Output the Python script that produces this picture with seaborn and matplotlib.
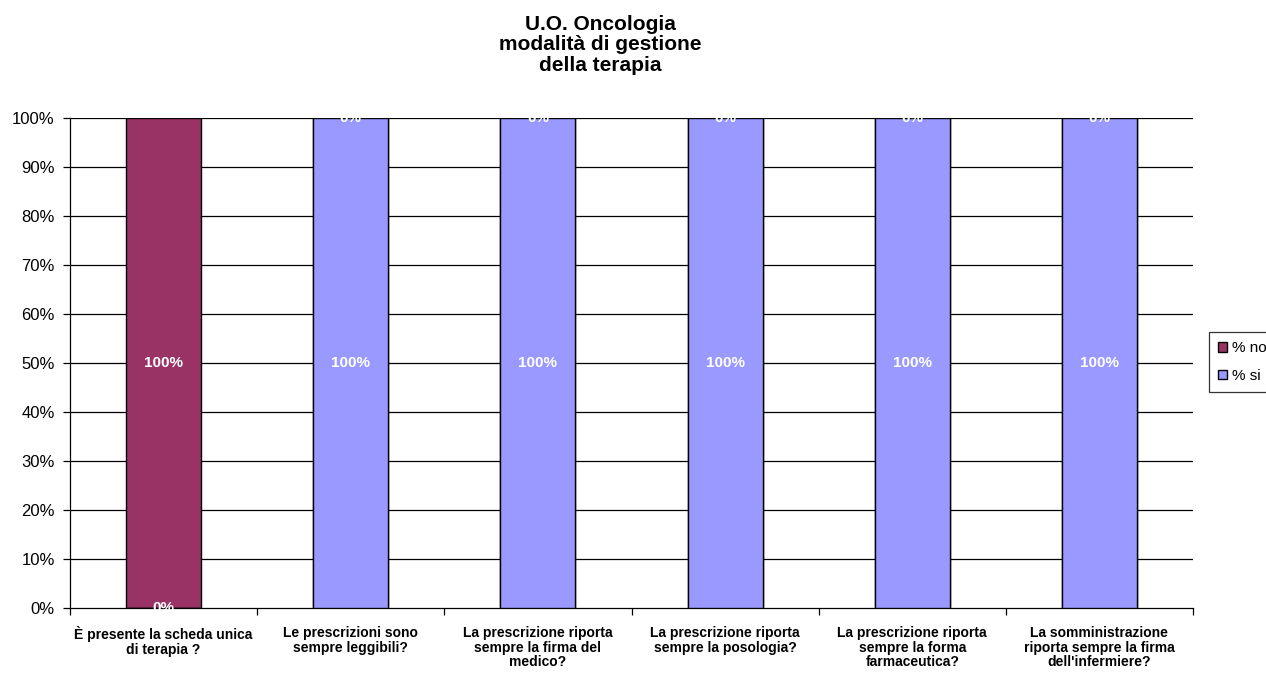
import matplotlib
matplotlib.use("Agg")
import matplotlib.pyplot as plt
import seaborn as sns
import pandas as pd
import numpy as np
from matplotlib.patches import Patch

categories = [
    "È presente la scheda unica\ndi terapia ?",
    "Le prescrizioni sono\nsempre leggibili?",
    "La prescrizione riporta\nsempre la firma del\nmedico?",
    "La prescrizione riporta\nsempre la posologia?",
    "La prescrizione riporta\nsempre la forma\nfarmaceutica?",
    "La somministrazione\nriporta sempre la firma\ndell'infermiere?",
]
pct_si = [0, 100, 100, 100, 100, 100]
pct_no = [100, 0, 0, 0, 0, 0]

col_no = "#993366"
col_si = "#9999FF"

sns.set_theme(style="white")
plt.rcParams['font.family'] = ['Liberation Sans', 'DejaVu Sans']
plt.rcParams['text.color'] = 'black'
plt.rcParams['xtick.color'] = 'black'
plt.rcParams['ytick.color'] = 'black'
plt.rcParams['axes.labelcolor'] = 'black'

df = pd.DataFrame({"cat": categories, "si": pct_si, "no": pct_no})
df["total"] = df["si"] + df["no"]

fig = plt.figure(figsize=(12.66, 6.73), dpi=100)
ax = fig.add_axes([70/1266, 1-608/673, (1193-70)/1266, (608-118)/673])

ax.set_axisbelow(True)
for v in range(10, 101, 10):
    ax.axhline(v, color="black", lw=0.9, zorder=0)

sns.barplot(data=df, x="cat", y="total", color=col_no, width=0.4, ax=ax,
            edgecolor="black", linewidth=1, saturation=1, zorder=2)
sns.barplot(data=df, x="cat", y="si", color=col_si, width=0.4, ax=ax,
            edgecolor="black", linewidth=1, saturation=1, zorder=3)

for i, (s, n) in enumerate(zip(pct_si, pct_no)):
    ax.text(i, s/2, f"{s}%", ha="center", va="center", color="white",
            fontsize=11, fontweight="bold", zorder=5)
    ax.text(i, s + n/2, f"{n}%", ha="center", va="center", color="white",
            fontsize=11, fontweight="bold", zorder=5)

ax.set_ylim(0, 100)
ax.set_xlim(-0.5, len(categories) - 0.5)
ax.set_yticks(range(0, 101, 10))
ax.set_yticklabels([f"{v}%" for v in range(0, 101, 10)], fontsize=12)
ax.set_xticks(range(len(categories)))
ax.set_xticklabels(categories, fontsize=10, fontweight="bold", linespacing=1.05)
ax.tick_params(axis="x", length=0, pad=13)
ax.tick_params(axis="y", length=5, width=0.9, direction="out", left=True, pad=6, colors="black")
ax.set_xticks(np.arange(-0.5, len(categories), 1), minor=True)
ax.tick_params(axis="x", which="minor", length=5, width=0.9, direction="out", bottom=True, color="black")
ax.set_xlabel("")
ax.set_ylabel("")
for side in ["top", "right"]:
    ax.spines[side].set_visible(False)
for side in ["left", "bottom"]:
    ax.spines[side].set_color("black")
    ax.spines[side].set_linewidth(0.9)

fig.text(600/1266, 1-45/673, "U.O. Oncologia\nmodalità di gestione\ndella terapia",
         ha="center", va="center", fontsize=15, fontweight="bold", linespacing=1.12)

handles = [Patch(facecolor=col_no, edgecolor="black", label="% no"),
           Patch(facecolor=col_si, edgecolor="black", label="% si")]
leg = fig.legend(handles=handles, loc="center left", bbox_to_anchor=(1209/1266, 1-362/673),
                 frameon=True, fancybox=False, edgecolor="black", fontsize=11,
                 handlelength=0.6, handleheight=0.6, handletextpad=0.3,
                 borderpad=0.6, labelspacing=0.9, borderaxespad=0)
leg.get_frame().set_linewidth(0.9)

fig.savefig("out.png", dpi=100)
